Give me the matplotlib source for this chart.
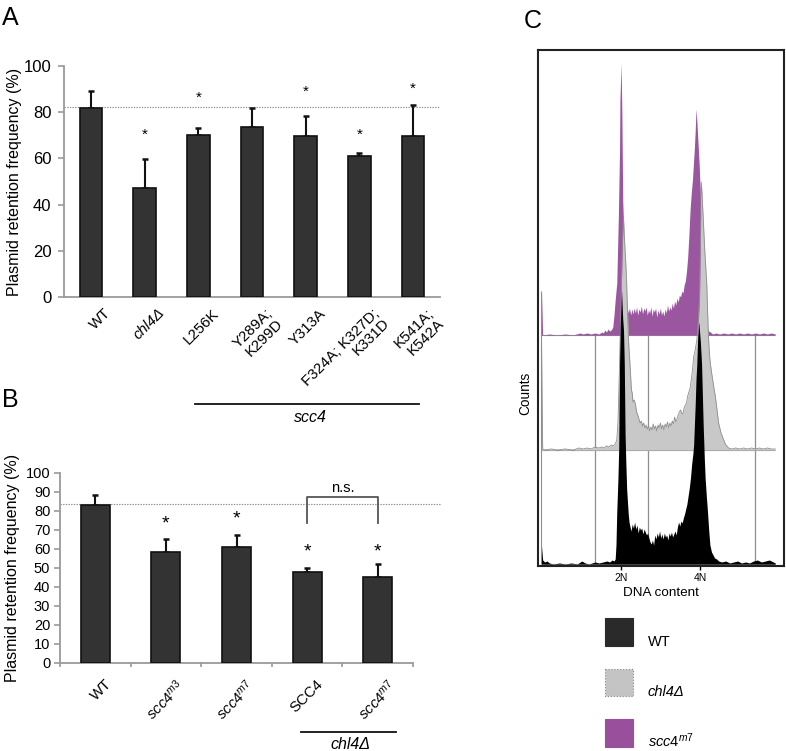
import matplotlib
matplotlib.use('Agg')
import matplotlib.pyplot as plt
import numpy as np
import matplotlib.transforms as mtransforms
from matplotlib.patches import Rectangle

plt.rcParams['font.family'] = ['Liberation Sans', 'DejaVu Sans']
plt.rcParams['mathtext.fontset'] = 'custom'
plt.rcParams['mathtext.rm'] = 'Liberation Sans'
plt.rcParams['mathtext.it'] = 'Liberation Sans:italic'

# ---------------- Panel A data ----------------
a_labels = ['WT', 'chl4Δ', 'L256K', 'Y289A;\nK299D', 'Y313A', 'F324A; K327D;\nK331D', 'K541A;\nK542A']
a_italic = [False, True, False, False, False, False, False]
a_means = [81.7, 47.3, 70.1, 73.7, 69.5, 60.9, 69.5]
a_err = [7.6, 12.6, 2.9, 8.0, 9.0, 1.6, 13.5]
a_star_y = [None, 71.9, 88.2, None, 90.8, 71.9, 92.1]
a_ref = 82.1
a_group_label = 'scc4'

# ---------------- Panel B data ----------------
b_labels = ['WT', r'$\mathit{scc4}^{\mathit{m3}}$', r'$\mathit{scc4}^{\mathit{m7}}$', 'SCC4', r'$\mathit{scc4}^{\mathit{m7}}$']
b_means = [83.0, 58.4, 60.7, 47.6, 45.3]
b_err = [5.3, 6.6, 6.5, 2.1, 6.5]
b_star_y = [None, 76.3, 78.9, 61.6, 61.6]
b_ref = 83.4
b_ns_pair = [3, 4]
b_ns_top = 87.4
b_ns_bottom = 73.4
b_group_label = 'chl4Δ'

# ---------------- Panel C data (DNA content histograms) ----------------
dna_ticks = [200, 400]
dna_tick_labels = ['2N', '4N']
gate_channels = [135, 270, 540]

wt_ch = [0, 3, 8, 14, 20, 30, 45, 60, 75, 90, 102, 110, 120, 135, 145, 155, 165, 172, 178, 183,
         186, 188, 190, 193, 195, 197, 199, 202, 205, 207, 209, 211, 213, 215, 217, 219, 221,
         223, 226, 229, 232, 235, 238, 241, 244, 247, 250, 253, 256, 259, 262, 265, 268, 271, 274,
         277, 280, 283, 286, 289, 292, 295, 298, 301, 304, 307, 310, 313, 316, 319, 322, 325, 328,
         331, 334, 337, 340, 343, 346, 349, 352, 355, 358, 361, 364, 367, 370, 373, 376, 379, 382,
         384, 386, 388, 390, 392, 394, 396, 397, 399, 401, 404, 406, 408, 411, 413, 416, 419, 422,
         425, 429, 433, 437, 442, 447, 455, 465, 475, 485, 495, 505, 515, 525, 535, 545, 555, 565,
         575, 585, 590]
wt_counts = [18, 4, 2, 3, 1, 0, 1, 0, 1, 0, 3, 1, 0, 2, 1, 2, 3, 2, 4, 3,
             5, 19, 52, 86, 117, 200, 240, 274, 245, 234, 200, 130, 100, 75, 62, 50, 42,
             38, 33, 40, 36, 42, 35, 39, 31, 37, 34, 36, 30, 35, 32, 29, 31, 26, 22,
             20, 24, 19, 29, 25, 31, 27, 33, 26, 30, 25, 31, 27, 29, 24, 31, 28, 32,
             27, 30, 33, 29, 37, 42, 38, 43, 41, 46, 50, 55, 60, 68, 76, 86, 100, 110,
             119, 140, 160, 185, 200, 225, 238, 242, 232, 222, 200, 170, 140, 105, 86, 68, 52, 34,
             19, 12, 9, 6, 5, 3, 2, 3, 1, 2, 3, 1, 2, 1, 3, 4, 2, 3,
             4, 2, 1]

chl4_ch = [0, 3, 10, 25, 40, 60, 80, 95, 105, 115, 125, 135, 145, 152, 158, 164, 170, 176, 181, 186,
           190, 193, 196, 199, 202, 205, 207, 209, 211, 213, 215, 217, 219, 221, 223, 225, 227, 229,
           231, 234, 237, 240, 243, 246, 249, 252, 255, 258, 261, 264, 267, 270, 273, 276, 279, 282,
           285, 288, 291, 294, 297, 300, 303, 306, 309, 312, 315, 318, 321, 324, 327, 330, 333, 336,
           339, 342, 345, 348, 351, 354, 357, 360, 363, 366, 369, 372, 375, 378, 381, 384, 388, 392,
           396, 399, 401, 403, 405, 408, 412, 417, 421, 424, 426, 429, 432, 436, 439, 443, 447, 450,
           453, 456, 460, 464, 468, 472, 480, 490, 500, 510, 520, 530, 540, 550, 560, 570, 580, 590]
chl4_counts = [115, 1, 0, 1, 0, 1, 0, 2, 1, 2, 1, 3, 2, 3, 2, 4, 3, 5, 4, 6,
               10, 27, 70, 120, 170, 215, 233, 215, 200, 185, 167, 140, 117, 100, 88, 74, 60, 57,
               48, 50, 46, 38, 35, 31, 27, 29, 24, 27, 22, 25, 21, 24, 19, 23, 20, 26,
               21, 24, 19, 25, 22, 27, 21, 25, 20, 26, 23, 28, 22, 27, 24, 29, 26, 33,
               28, 31, 35, 38, 40, 37, 36, 42, 45, 47, 54, 58, 62, 70, 80, 93, 100, 110,
               130, 155, 205, 268, 258, 233, 200, 167, 117, 95, 87, 78, 70, 60, 53, 40, 27, 22,
               17, 14, 10, 6, 4, 2, 1, 2, 1, 2, 1, 2, 1, 2, 1, 2, 1, 1]

m7_ch = [0, 3, 20, 40, 60, 80, 97, 105, 115, 125, 135, 145, 152, 156, 160, 164, 168, 172, 176, 180,
         183, 186, 190, 194, 197, 198, 201, 203, 205, 207, 209, 212, 216, 219, 222, 225, 228, 231,
         234, 237, 240, 243, 246, 249, 252, 255, 258, 261, 264, 267, 270, 273, 276, 279, 282, 285,
         288, 291, 294, 297, 300, 303, 306, 309, 312, 315, 318, 321, 324, 327, 330, 333, 336, 339,
         342, 345, 348, 351, 354, 357, 360, 363, 366, 369, 372, 375, 378, 381, 384, 386, 388, 390,
         392, 394, 396, 398, 400, 403, 406, 410, 414, 418, 422, 426, 432, 440, 450, 460, 470, 480,
         490, 500, 510, 520, 530, 540, 550, 560, 570, 580, 590]
m7_counts = [44, 0, 1, 0, 1, 0, 2, 1, 2, 1, 2, 1, 3, 2, 5, 3, 6, 4, 5, 8,
             20, 35, 52, 118, 185, 235, 272, 218, 135, 112, 68, 45, 28, 22, 27, 20, 26, 21,
             27, 22, 28, 20, 26, 23, 29, 21, 27, 24, 28, 20, 25, 22, 28, 19, 26, 23,
             27, 18, 25, 21, 27, 20, 24, 19, 26, 22, 30, 24, 28, 25, 32, 27, 34, 30,
             37, 33, 40, 38, 44, 42, 50, 54, 64, 78, 100, 125, 142, 155, 175, 188, 205, 226,
             215, 200, 185, 170, 150, 120, 90, 55, 25, 8, 4, 3, 1, 2, 1, 2, 1, 2,
             1, 2, 1, 2, 1, 2, 1, 2, 1, 2, 1]

stack_offsets = [0, 114, 229]          # WT, chl4Δ, scc4m7 (staggered overlay)
legend_labels = ['WT', 'chl4Δ', r'$\mathit{scc4}^{\mathit{m7}}$']
legend_italic = [False, True, False]

# ---------------- Styling ----------------
BAR = '#333333'
EDGE = '#111111'
SPINE = '#9a9a9a'
PURPLE = '#9A57A0'
GRAY = '#C8C8C8'
GRAY_LINE = '#8E8E8E'

W, H = 786, 751
fig = plt.figure(figsize=(W / 100, H / 100), dpi=100)


def px_axes(l, t, r, b):
    return fig.add_axes([l / W, 1 - b / H, (r - l) / W, (b - t) / H])


def pt(px):
    return px * 0.72


# ================= Panel A =================
axA = px_axes(64, 66, 440, 297)
xa = np.arange(len(a_labels))
axA.bar(xa, a_means, width=0.42, color=BAR, edgecolor=EDGE, linewidth=1.2, zorder=3)
axA.errorbar(xa, a_means, yerr=[np.zeros(len(xa)), a_err], fmt='none', ecolor=EDGE,
             elinewidth=1.5, capsize=2.5, capthick=1.8, zorder=2)
axA.set_xlim(-0.5, len(a_labels) - 0.5)
axA.set_ylim(0, 100)
axA.set_yticks(np.arange(0, 101, 20))
axA.set_xticks([])
for s in ['top', 'right']:
    axA.spines[s].set_visible(False)
for s in ['left', 'bottom']:
    axA.spines[s].set_color(SPINE)
    axA.spines[s].set_linewidth(1.3)
axA.tick_params(axis='y', length=4, width=1.2, color=SPINE, labelsize=12, pad=5)
axA.axhline(a_ref, color='#8a8a8a', lw=0.8, ls=(0, (1.2, 1.2)), zorder=1)
axA.set_ylabel('Plasmid retention frequency (%)', fontsize=11.5)
axA.yaxis.set_label_coords((22 - 64) / 376, 0.5)

star_off = mtransforms.offset_copy(axA.transData, fig=fig, x=0, y=-6.0, units='points')
for i, y in enumerate(a_star_y):
    if y is not None:
        axA.text(i, y, '*', ha='center', va='baseline', fontsize=11, transform=star_off)

offA = mtransforms.offset_copy(axA.transData, fig=fig, x=pt(13), y=pt(-9), units='points')
for i, lab in enumerate(a_labels):
    axA.text(i, 0, lab, transform=offA, rotation=45, rotation_mode='anchor', ha='right',
             va='top', fontsize=10.8, fontstyle='italic' if a_italic[i] else 'normal',
             multialignment='right', linespacing=1.05)

blendA = mtransforms.blended_transform_factory(axA.transData, axA.transAxes)
axA.plot([1.94, 6.1], [-0.463, -0.463], transform=blendA, clip_on=False, color='#111111', lw=1.3)
axA.text(4.09, -0.52, a_group_label, transform=blendA, ha='center', va='center',
         fontsize=11.5, fontstyle='italic')

# ================= Panel B =================
axB = px_axes(60, 472.7, 413, 662.7)
xb = np.arange(len(b_labels))
axB.bar(xb, b_means, width=0.41, color=BAR, edgecolor=EDGE, linewidth=1.2, zorder=3)
axB.errorbar(xb, b_means, yerr=[np.zeros(len(xb)), b_err], fmt='none', ecolor=EDGE,
             elinewidth=1.5, capsize=2.0, capthick=1.8, zorder=2)
axB.set_xlim(-0.5, len(b_labels) - 0.5)
axB.set_ylim(0, 100)
axB.set_yticks(np.arange(0, 101, 10))
axB.set_xticks([])
axB.set_xticks(np.arange(-0.5, len(b_labels)), minor=True)
for s in ['top', 'right']:
    axB.spines[s].set_visible(False)
for s in ['left', 'bottom']:
    axB.spines[s].set_color(SPINE)
    axB.spines[s].set_linewidth(1.3)
axB.tick_params(axis='y', length=4, width=1.2, color=SPINE, labelsize=10.5, pad=3)
axB.tick_params(axis='x', which='minor', length=3, width=1.2, color=SPINE)
blendB_h = mtransforms.blended_transform_factory(axB.transAxes, axB.transData)
axB.plot([0, 1.0765], [b_ref, b_ref], transform=blendB_h, clip_on=False, color='#8a8a8a',
         lw=0.8, ls=(0, (1.2, 1.2)), zorder=1)
axB.set_ylabel('Plasmid retention frequency (%)', fontsize=11.5)
axB.yaxis.set_label_coords((20 - 60) / 353, 0.5)

star_offB = mtransforms.offset_copy(axB.transData, fig=fig, x=0, y=-7.5, units='points')
for i, y in enumerate(b_star_y):
    if y is not None:
        axB.text(i, y, '*', ha='center', va='baseline', fontsize=14, transform=star_offB)

b0, b1 = b_ns_pair
axB.plot([b0, b0, b1, b1], [b_ns_bottom, b_ns_top, b_ns_top, b_ns_bottom], color='#555555', lw=1.3)
axB.text((b0 + b1) / 2, b_ns_top + 4.5, 'n.s.', ha='center', va='center', fontsize=10.5)

offB = mtransforms.offset_copy(axB.transData, fig=fig, x=pt(9), y=pt(-14), units='points')
for i, lab in enumerate(b_labels):
    axB.text(i, 0, lab, transform=offB, rotation=45, rotation_mode='anchor', ha='right',
             va='top', fontsize=10.8)

blendB = mtransforms.blended_transform_factory(axB.transData, axB.transAxes)
axB.plot([2.91, 4.26], [-0.363, -0.363], transform=blendB, clip_on=False, color='#111111', lw=1.3)
axB.text(3.62, -0.428, b_group_label, transform=blendB, ha='center', va='center',
         fontsize=11.5, fontstyle='italic')

# ================= Panel C =================
axC = px_axes(538.3, 50, 784, 566)
axC.set_xlim(-8, 612)
axC.set_ylim(-2, 514)
traces = [(wt_ch, wt_counts), (chl4_ch, chl4_counts), (m7_ch, m7_counts)]
fills = ['#000000', GRAY, PURPLE]
zorders = [5, 4, 3]
top_y = stack_offsets[2] + m7_counts[0]
axC.vlines(0, 0, top_y, color=GRAY_LINE, lw=0.8, zorder=1)
for (ch, cnt), off in zip(traces, stack_offsets):
    ch = np.asarray(ch, float)
    axC.hlines(off, ch.min(), ch.max(), color=GRAY_LINE, lw=0.8, zorder=1.5)
axC.vlines(gate_channels, 0, stack_offsets[2], color=GRAY_LINE, lw=0.9, zorder=1)
for (ch, cnt), off, fc, z in zip(traces, stack_offsets, fills, zorders):
    ch = np.asarray(ch, float)
    cnt = np.asarray(cnt, float)
    axC.fill_between(ch, off, off + cnt, color=fc, lw=0, zorder=z)
    if fc == GRAY:
        axC.plot(ch, off + cnt, color=GRAY_LINE, lw=0.6, zorder=z + 0.1)
axC.set_yticks([])
axC.set_xticks(dna_ticks, dna_tick_labels)
axC.tick_params(axis='x', length=3, width=1.0, labelsize=7.5, pad=2)
for s in axC.spines.values():
    s.set_color('#222222')
    s.set_linewidth(1.5)
axC.set_xlabel('DNA content', fontsize=9.7, labelpad=3)
axC.text(-0.054, 0.335, 'Counts', transform=axC.transAxes, rotation=90, ha='center',
         va='center', fontsize=9.8)

# ================= Overlay: panel letters & legend =================
ov = fig.add_axes([0, 0, 1, 1], zorder=-1)
ov.set_xlim(0, W)
ov.set_ylim(H, 0)
ov.axis('off')
ov.text(2, 25, 'A', fontsize=18, va='baseline', ha='left')
ov.text(2, 407, 'B', fontsize=18, va='baseline', ha='left')
ov.text(524, 28, 'C', fontsize=18, va='baseline', ha='left')

leg_colors = ['#2a2a2a', '#C4C4C4', '#9A4F9C']
leg_edges = ['#2a2a2a', '#8a8a8a', '#9A4F9C']
leg_ls = ['-', ':', '-']
for k, (lab, fc, ec, ls) in enumerate(zip(legend_labels, leg_colors, leg_edges, leg_ls)):
    top = 618 + k * 50.5
    ov.add_patch(Rectangle((605, top), 27.7, 27.7, facecolor=fc, edgecolor=ec, lw=0.8, ls=ls))
    ov.text(647.7, top + 27.7, lab, fontsize=10.5, va='baseline', ha='left',
            fontstyle='italic' if legend_italic[k] else 'normal')

fig.savefig('out.png', dpi=100)
